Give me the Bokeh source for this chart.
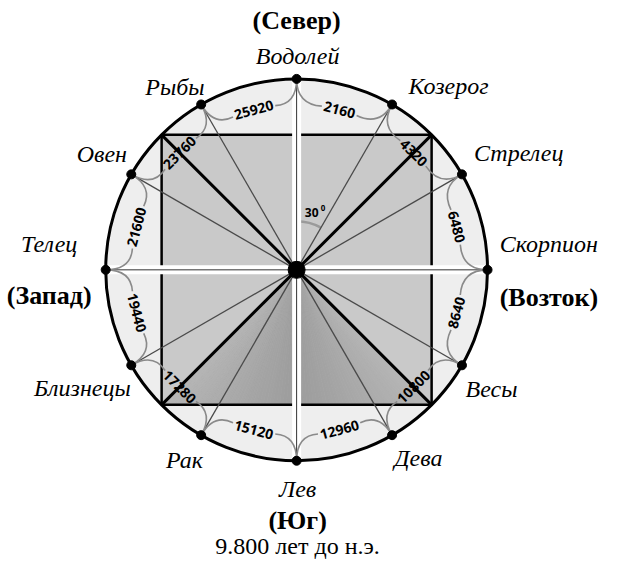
import numpy as np
from bokeh.plotting import figure
from bokeh.models import Range1d
from bokeh.core.properties import value
from bokeh.embed import file_html
from bokeh.resources import INLINE

# ---------------- data ----------------
signs = ["Водолей", "Козерог", "Стрелец", "Скорпион", "Весы", "Дева",
         "Лев", "Рак", "Близнецы", "Телец", "Овен", "Рыбы"]
sign_angles = [90, 60, 30, 0, -30, -60, -90, -120, -150, 180, 150, 120]
years = [2160, 4320, 6480, 8640, 10800, 12960, 15120, 17280, 19440, 21600, 23760, 25920]
year_angles = [75, 45, 15, -15, -45, -75, -105, -135, -165, 165, 135, 105]
directions = ["(Север)", "(Запад)", "(Возток)", "(Юг)"]
epoch = "9.800 лет до н.э."
angle_value = "30"
angle_sup = "0"

# ---------------- layout (reference pixel positions of the texts) ----------------
CX, CY = 304, 276.5
sign_pos = [(305, 57), (460, 88), (532, 157), (563, 250), (504, 399), (429, 470),
            (305, 502), (189, 472), (84, 398), (50, 250), (104, 158), (179, 89)]
dir_pos = [(304, 21), (50, 303), (563, 305), (305, 534)]
epoch_pos = (305, 560)

def P(X, Y):
    return X - CX, CY - Y

deg = np.pi / 180
R = 196.0
RL = 170.0
h = R * np.cos(45 * deg)

W, H = 601, 559
RW = 617.0
RH = H * RW / W
p = figure(width=W, height=H, x_range=Range1d(-CX, RW - CX), y_range=Range1d(CY - RH, CY),
           output_backend="svg", toolbar_location=None, min_border=0,
           x_axis_type=None, y_axis_type=None)
p.grid.visible = False
p.outline_line_color = None
p.background_fill_color = "white"
p.border_fill_color = "white"

# outer ring background
p.circle(x=[0], y=[0], radius=R, fill_color="#eeeeee", line_color=None)
# square
p.rect(x=[0], y=[0], width=2 * h, height=2 * h, fill_color="#c9c9c9", line_color=None)

# lower wedge gradient
N = 40
xs, ys, cols = [], [], []
for side in (-1, 1):
    for k in range(N):
        t0, t1 = k / N, (k + 1) / N
        xa = side * h * (1 - t0)
        xb = side * h * (1 - t1)
        xs.append([0, xa, xb])
        ys.append([0, -h, -h])
        t = (t0 + t1) / 2
        g = int(round(182 - 26 * t))
        cols.append("#%02x%02x%02x" % (g, g, g))
p.patches(xs, ys, fill_color=cols, line_color=cols, line_width=0.6)

# square border
p.rect(x=[0], y=[0], width=2 * h, height=2 * h, fill_color=None, line_color="black", line_width=2.5)

# 30 degree arc
p.arc(x=[0], y=[0], radius=50, start_angle=60 * deg, end_angle=90 * deg,
      line_color="#9a9a9a", line_width=2.5)

# white cross bands
p.segment(x0=[0, -R], y0=[-R, 0], x1=[0, R], y1=[R, 0], line_color="white", line_width=9)
p.segment(x0=[0, -R], y0=[-R, 0], x1=[0, R], y1=[R, 0], line_color="#333333", line_width=1)

# thin radial lines to signs (not on axes)
thin = [a for a in sign_angles if a % 90 != 0]
p.segment(x0=[0] * len(thin), y0=[0] * len(thin),
          x1=[R * np.cos(a * deg) for a in thin], y1=[R * np.sin(a * deg) for a in thin],
          line_color="#4a4a4a", line_width=1.3)

# thick diagonals to square corners
diag = [45, 135, -45, -135]
p.segment(x0=[0] * 4, y0=[0] * 4,
          x1=[R * np.cos(a * deg) for a in diag], y1=[R * np.sin(a * deg) for a in diag],
          line_color="black", line_width=3)

# curves from sign dots to the year labels
qx0, qy0, qx1, qy1, qcx, qcy = [], [], [], [], [], []
for yv, m in zip(years, year_angles):
    nd = len(str(yv))
    half = (nd * 8.0 / 2 + 2.5) / RL / deg
    for s in (1, -1):
        a = m + 15 * s
        e = m + half * s
        qx0.append(R * np.cos(a * deg)); qy0.append(R * np.sin(a * deg))
        qcx.append(RL * np.cos(a * deg)); qcy.append(RL * np.sin(a * deg))
        qx1.append(RL * np.cos(e * deg)); qy1.append(RL * np.sin(e * deg))
p.quadratic(x0=qx0, y0=qy0, x1=qx1, y1=qy1, cx=qcx, cy=qcy, line_color="#8a8a8a", line_width=1.6)

# outer circle
p.circle(x=[0], y=[0], radius=R, fill_color=None, line_color="black", line_width=3)

# dots
p.scatter(x=[R * np.cos(a * deg) for a in sign_angles], y=[R * np.sin(a * deg) for a in sign_angles],
          size=9, color="black")
p.scatter(x=[0], y=[0], size=17, color="black")

# year labels
lx = [RL * np.cos(m * deg) for m in year_angles]
ly = [RL * np.sin(m * deg) for m in year_angles]
rot = [(m - 90 if 0 < m < 180 else m + 90) for m in year_angles]
p.text(x=lx, y=ly, text=[str(v) for v in years], angle=[r * deg for r in rot],
       text_align="center", text_baseline="middle", text_font=value("Open Sans"),
       text_font_style="bold", text_font_size="14px", text_color="black")

# 30 degree label
ax, ay = P(319.5, 218)
p.text(x=[ax], y=[ay], text=[angle_value], text_align="center", text_baseline="middle",
       text_font=value("Open Sans"), text_font_style="bold", text_font_size="12px", text_color="black")
sx, sy = P(331, 213.5)
p.text(x=[sx], y=[sy], text=[angle_sup], text_align="center", text_baseline="middle",
       text_font=value("Open Sans"), text_font_style="bold", text_font_size="8px", text_color="black")

# sign names
sxs = [P(*q)[0] for q in sign_pos]
sys_ = [P(*q)[1] for q in sign_pos]
p.text(x=sxs, y=sys_, text=signs, text_align="center", text_baseline="middle",
       text_font=value("Liberation Serif"), text_font_style="italic", text_font_size="24px",
       text_color="black")

# directions
dxs = [P(*q)[0] for q in dir_pos]
dys = [P(*q)[1] for q in dir_pos]
p.text(x=dxs, y=dys, text=directions, text_align="center", text_baseline="middle",
       text_font=value("Liberation Serif"), text_font_style="bold", text_font_size="26px",
       text_color="black")

ex, ey = P(*epoch_pos)
p.text(x=[ex], y=[ey], text=[epoch], text_align="center", text_baseline="middle",
       text_font=value("Liberation Serif"), text_font_size="24px", text_color="black")

open("out.html", "w").write(file_html(p, INLINE))
